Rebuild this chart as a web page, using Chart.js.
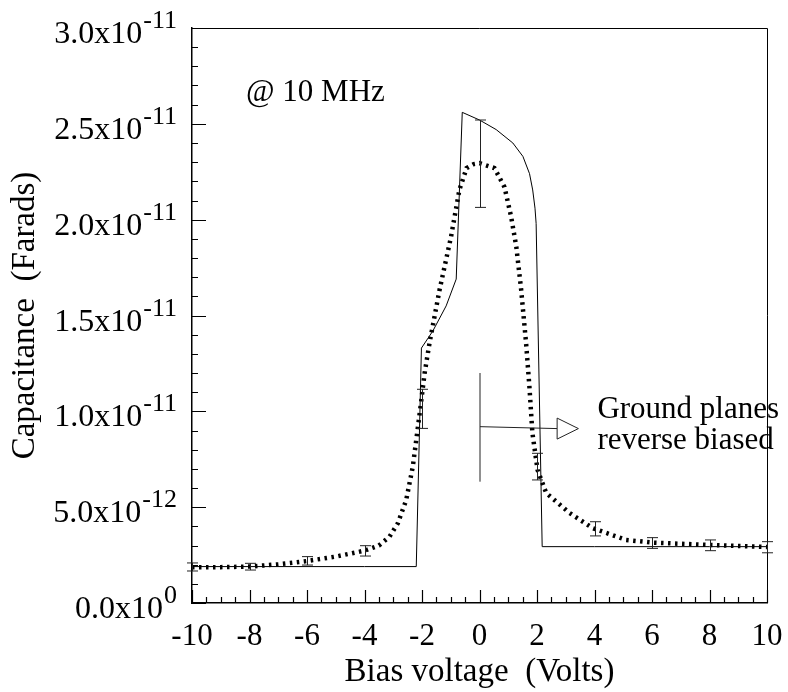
<!DOCTYPE html>
<html>
<head>
<meta charset="utf-8">
<script src="https://cdn.jsdelivr.net/npm/chart.js@4.4.0/dist/chart.umd.min.js"></script>
<style>
  body { margin: 0; background: #fff; }
</style>
</head>
<body>
<canvas id="cv-chart" width="788" height="692"></canvas>
<script>
const FONT = "Liberation Serif"

// simulated C-V curve (solid)
const simV = [-10, -8, -6, -4, -2.2, -2.02, -1.62, -1.16, -0.81, -0.6, 0, 0.58, 1.16, 1.51, 1.74, 1.85, 1.93, 1.97, 2.18, 4, 6, 8, 10]
const simC = [1.9e-12, 1.9e-12, 1.9e-12, 1.9e-12, 1.9e-12, 1.33e-11, 1.42e-11, 1.55e-11, 1.69e-11, 2.56e-11, 2.52e-11, 2.47e-11, 2.40e-11, 2.33e-11, 2.24e-11, 2.155e-11, 2.06e-11, 1.98e-11, 2.94e-12, 2.94e-12, 2.94e-12, 2.94e-12, 2.94e-12]

// measured C-V curve (dotted)
const measV = [-10, -9, -8, -7, -6, -5, -4, -3.5, -3.13, -2.84, -2.55, -2.32, -2.14, -2.03, -1.91, -1.74, -1.39, -0.99, -0.7, -0.45, -0.2, 0, 0.52, 0.87, 1.1, 1.28, 1.45, 1.62, 1.74, 1.84, 2.02, 2.32, 3.13, 3.93, 5.1, 6.02, 8, 10]
const measC = [1.86e-12, 1.87e-12, 1.9e-12, 2.02e-12, 2.19e-12, 2.42e-12, 2.73e-12, 3.0e-12, 3.46e-12, 4.16e-12, 5.37e-12, 7.11e-12, 9.2e-12, 1.05e-11, 1.198e-11, 1.355e-11, 1.633e-11, 1.911e-11, 2.155e-11, 2.269e-11, 2.29e-11, 2.295e-11, 2.269e-11, 2.17e-11, 2.015e-11, 1.859e-11, 1.633e-11, 1.356e-11, 1.12e-11, 8.87e-12, 6.94e-12, 5.74e-12, 4.7e-12, 3.91e-12, 3.29e-12, 3.15e-12, 3.03e-12, 2.92e-12]

// error bars on the measurement
const errV = [-10, -8, -6, -4, -2, 0, 2, 4, 6, 8, 10]
const errLow = [1.67e-12, 1.72e-12, 1.98e-12, 2.45e-12, 9.11e-12, 2.064e-11, 6.42e-12, 3.5e-12, 2.85e-12, 2.73e-12, 2.62e-12]
const errHigh = [2.09e-12, 2.07e-12, 2.42e-12, 2.99e-12, 1.115e-11, 2.52e-11, 7.81e-12, 4.24e-12, 3.41e-12, 3.29e-12, 3.2e-12]

const xTicks = [-10, -8, -6, -4, -2, 0, 2, 4, 6, 8, 10]
const yTicks = [0, 5e-12, 1e-11, 1.5e-11, 2e-11, 2.5e-11, 3e-11]
const yTickMantissa = ["0.0", "5.0", "1.0", "1.5", "2.0", "2.5", "3.0"]
const yTickExponent = ["0", "-12", "-11", "-11", "-11", "-11", "-11"]

const pts = (xs, ys) => xs.map((x, i) => ({ x: x, y: ys[i] }))

// inward ticks, frame, error bars, y labels with exponents, annotations
const decor = {
  id: "decor",
  afterDatasetsDraw(chart) {
    const { ctx, chartArea: a, scales: { x, y } } = chart
    ctx.save()
    ctx.strokeStyle = "#000"
    ctx.lineWidth = 1

    // top and right border
    ctx.beginPath()
    ctx.moveTo(a.left, a.top + 0.5)
    ctx.lineTo(a.right + 0.5, a.top + 0.5)
    ctx.lineTo(a.right + 0.5, a.bottom)
    ctx.stroke()

    // x ticks every 0.5 V, major every 2
    ctx.lineWidth = 1.2
    ctx.beginPath()
    for (let i = 0; i <= 40; i++) {
      const v = -10 + i * 0.5
      const px = Math.round(x.getPixelForValue(v)) + 0.5
      const len = i % 4 === 0 ? 13 : 6
      ctx.moveTo(px, a.bottom)
      ctx.lineTo(px, a.bottom - len)
    }
    // y ticks every 1 pF, major every 5
    for (let i = 0; i <= 30; i++) {
      const py = Math.round(y.getPixelForValue(i * 1e-12)) + 0.5
      const len = i % 5 === 0 ? 14 : 6
      ctx.moveTo(a.left, py)
      ctx.lineTo(a.left + len, py)
    }
    ctx.stroke()

    // error bars
    ctx.strokeStyle = "#222"
    ctx.lineWidth = 1
    ctx.beginPath()
    errV.forEach((v, i) => {
      const px = Math.round(x.getPixelForValue(v)) + 0.5
      const y0 = y.getPixelForValue(errLow[i])
      const y1 = y.getPixelForValue(errHigh[i])
      ctx.moveTo(px, y0)
      ctx.lineTo(px, y1)
      ctx.moveTo(px - 5.5, y0)
      ctx.lineTo(px + 5.5, y0)
      ctx.moveTo(px - 5.5, y1)
      ctx.lineTo(px + 5.5, y1)
    })
    ctx.stroke()

    // ground plane marker with arrow
    const mx = x.getPixelForValue(0) + 0.5
    ctx.beginPath()
    ctx.moveTo(mx, y.getPixelForValue(1.2e-11))
    ctx.lineTo(mx, y.getPixelForValue(6.33e-12))
    ctx.moveTo(mx, y.getPixelForValue(9.2e-12))
    const baseX = x.getPixelForValue(2.7)
    const tipX = x.getPixelForValue(3.44)
    const ay = y.getPixelForValue(9.1e-12)
    ctx.lineTo(baseX, ay)
    ctx.stroke()
    ctx.beginPath()
    ctx.moveTo(baseX, ay - 10.5)
    ctx.lineTo(tipX, ay)
    ctx.lineTo(baseX, ay + 10.5)
    ctx.closePath()
    ctx.fillStyle = "#fff"
    ctx.fill()
    ctx.stroke()

    // texts
    ctx.fillStyle = "#000"
    ctx.textBaseline = "alphabetic"
    ctx.textAlign = "left"
    ctx.font = `31px "${FONT}"`
    ctx.fillText("@ 10 MHz", x.getPixelForValue(-8.12), y.getPixelForValue(2.619e-11))
    ctx.fillText("Ground planes", x.getPixelForValue(4.1), y.getPixelForValue(9.65e-12))
    ctx.fillText("reverse biased", x.getPixelForValue(4.1), y.getPixelForValue(8.03e-12))

    // y tick labels: mantissa x 10 with raised exponent
    const right = a.left - 15
    yTicks.forEach((v, i) => {
      const py = y.getPixelForValue(v)
      ctx.font = `26px "${FONT}"`
      const ew = ctx.measureText(yTickExponent[i]).width
      ctx.fillText(yTickExponent[i], right - ew, py)
      ctx.font = `32px "${FONT}"`
      const main = yTickMantissa[i] + "x10"
      const mw = ctx.measureText(main).width
      ctx.fillText(main, right - ew - 1 - mw, py + 15)
    })
    ctx.restore()
  }
}

new Chart(document.getElementById("cv-chart"), {
  type: "line",
  data: {
    datasets: [
      {
        label: "simulated",
        data: pts(simV, simC),
        borderColor: "#000",
        borderWidth: 1,
        pointRadius: 0,
        tension: 0
      },
      {
        label: "measured",
        data: pts(measV, measC),
        borderColor: "#000",
        borderWidth: 4.5,
        borderDash: [2.5, 4.5],
        borderCapStyle: "butt",
        pointRadius: 0,
        tension: 0
      }
    ]
  },
  options: {
    responsive: false,
    animation: false,
    devicePixelRatio: 1,
    layout: { padding: { top: 28, right: 21, left: 0, bottom: 0 } },
    plugins: { legend: { display: false }, tooltip: { enabled: false } },
    scales: {
      x: {
        type: "linear",
        min: -10,
        max: 10,
        afterBuildTicks: s => { s.ticks = xTicks.map(v => ({ value: v })) },
        afterFit: s => {
          s.height = 89
          s.paddingLeft = 0
          s.paddingRight = 0
        },
        grid: { display: false, drawTicks: false },
        border: { display: true, color: "#000", width: 1.5 },
        ticks: {
          font: { family: FONT, size: 31 },
          color: "#000",
          padding: 15,
          maxRotation: 0,
          autoSkip: false,
          callback: v => String(v)
        },
        title: {
          display: true,
          text: "Bias voltage  (Volts)",
          font: { family: FONT, size: 33 },
          color: "#000",
          padding: { top: 0, bottom: 0 }
        }
      },
      y: {
        type: "linear",
        min: 0,
        max: 3e-11,
        afterBuildTicks: s => { s.ticks = yTicks.map(v => ({ value: v })) },
        afterFit: s => {
          s.width = 192
          s.paddingTop = 0
          s.paddingBottom = 0
        },
        grid: { display: false, drawTicks: false },
        border: { display: true, color: "#000", width: 1.5 },
        ticks: { display: false },
        title: {
          display: true,
          text: "Capacitance  (Farads)",
          font: { family: FONT, size: 33 },
          color: "#000",
          padding: { top: 6, bottom: 0 }
        }
      }
    }
  },
  plugins: [decor]
})
</script>
</body>
</html>
